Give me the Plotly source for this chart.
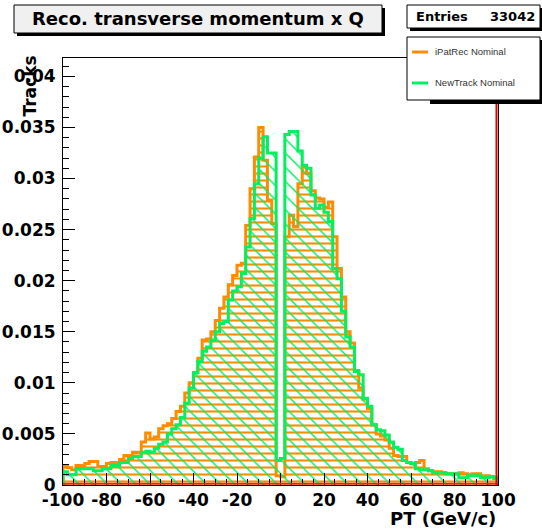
import plotly.graph_objects as go

# ---------------- data ----------------
BIN_LOW = list(range(-100, 100, 2))          # bin lower edges (GeV/c), width 2
BIN_HIGH_EDGE = 100

IPATREC = [
    0.0019, 0.0017, 0.0015, 0.0019, 0.0019, 0.0021, 0.0023, 0.0023, 0.0018, 0.0018,
    0.0021, 0.0022, 0.0022, 0.0025, 0.0029, 0.0029, 0.0032, 0.0032, 0.0042, 0.0051,
    0.0045, 0.0047, 0.0055, 0.0058, 0.0060, 0.0065, 0.0072, 0.0077, 0.0090, 0.0100,
    0.0110, 0.0124, 0.0142, 0.0143, 0.0150, 0.0161, 0.0173, 0.0184, 0.0196, 0.0205,
    0.0215, 0.0217, 0.0254, 0.0290, 0.0321, 0.0350, 0.0318, 0.0279, 0.0256, 0.0009,
    0.0008, 0.0243, 0.0264, 0.0253, 0.0295, 0.0311, 0.0305, 0.0288, 0.0281, 0.0280,
    0.0272, 0.0277, 0.0243, 0.0212, 0.0184, 0.0150, 0.0139, 0.0112, 0.0095, 0.0084,
    0.0075, 0.0059, 0.0050, 0.0048, 0.0044, 0.0036, 0.0029, 0.0028, 0.0028, 0.0022,
    0.0021, 0.0022, 0.0024, 0.0016, 0.0014, 0.0013, 0.0013, 0.0012, 0.0011, 0.0011,
    0.0011, 0.0012, 0.0011, 0.0010, 0.0011, 0.0011, 0.0009, 0.0009, 0.0008, 0.0006,
]

NEWTRACK = [
    0.0013, 0.0010, 0.0010, 0.0016, 0.0016, 0.0016, 0.0016, 0.0014, 0.0014, 0.0016,
    0.0016, 0.0019, 0.0019, 0.0022, 0.0022, 0.0026, 0.0028, 0.0028, 0.0032, 0.0033,
    0.0032, 0.0036, 0.0040, 0.0042, 0.0050, 0.0055, 0.0059, 0.0066, 0.0080, 0.0095,
    0.0110, 0.0121, 0.0131, 0.0135, 0.0142, 0.0150, 0.0158, 0.0160, 0.0181, 0.0190,
    0.0194, 0.0207, 0.0233, 0.0261, 0.0295, 0.0320, 0.0341, 0.0325, 0.0325, 0.0024,
    0.0026, 0.0343, 0.0346, 0.0346, 0.0327, 0.0313, 0.0310, 0.0284, 0.0271, 0.0274,
    0.0267, 0.0258, 0.0212, 0.0202, 0.0170, 0.0145, 0.0135, 0.0111, 0.0108, 0.0085,
    0.0077, 0.0059, 0.0054, 0.0053, 0.0049, 0.0042, 0.0037, 0.0035, 0.0024, 0.0022,
    0.0021, 0.0016, 0.0015, 0.0015, 0.0014, 0.0012, 0.0012, 0.0012, 0.0011, 0.0011,
    0.0011, 0.0007, 0.0007, 0.0009, 0.0009, 0.0009, 0.0007, 0.0007, 0.0008, 0.0007,
]

X_TICKS = [-100, -80, -60, -40, -20, 0, 20, 40, 60, 80, 100]
X_TICK_TEXT = ["-100", "-80", "-60", "-40", "-20", "0", "20", "40", "60", "80", "100"]
Y_TICKS = [0, 0.005, 0.01, 0.015, 0.02, 0.025, 0.03, 0.035, 0.04]
Y_TICK_TEXT = ["0", "0.005", "0.01", "0.015", "0.02", "0.025", "0.03", "0.035", "0.04"]

TITLE = "Reco. transverse momentum x Q"
ENTRIES = "33042"
SERIES_NAMES = ["iPatRec Nominal", "NewTrack Nominal"]

ORANGE = "#ff8c00"
GREEN = "#00f060"

# ---------------- geometry helpers ----------------
W, H = 542, 532
L, R, T, B = 63, 498, 58, 485


def px(x):
    return (x - L) / (R - L)


def py(y):
    return (B - y) / (B - T)


def step_xy(values):
    xs = [BIN_LOW[0]] + BIN_LOW + [BIN_HIGH_EDGE, BIN_HIGH_EDGE]
    ys = [0] + values + [values[-1], 0]
    return xs, ys


BOLD = "DejaVu Sans"

fig = go.Figure()

for vals, color, shape, size, sol, name in [
    (IPATREC, ORANGE, "-", 7, 0.3, SERIES_NAMES[0]),
    (NEWTRACK, GREEN, "\\", 10, 0.15, SERIES_NAMES[1]),
]:
    xs, ys = step_xy(vals)
    fig.add_trace(go.Scatter(
        x=xs, y=ys, mode="lines", line=dict(shape="hv", color=color, width=3),
        fill="tozeroy", fillcolor="rgba(0,0,0,0)",
        fillpattern=dict(shape=shape, fgcolor=color, bgcolor="rgba(255,255,255,0)",
                         size=size, solidity=sol, fillmode="replace"),
        name=name, showlegend=False, hoverinfo="skip",
    ))

shapes = []
# bottom baseline (red) and right edge (red)
shapes.append(dict(type="line", xref="paper", yref="paper", x0=0, x1=1, y0=0.003, y1=0.003,
                   line=dict(color="#ff2000", width=2)))
shapes.append(dict(type="line", xref="paper", yref="paper", x0=px(496.5), x1=px(496.5),
                   y0=0, y1=py(100), line=dict(color="#dd0000", width=2)))

# title box with shadow
shapes.append(dict(type="rect", xref="paper", yref="paper", x0=px(17), x1=px(385), y0=py(36), y1=py(8),
                   fillcolor="black", line=dict(width=0)))
shapes.append(dict(type="rect", xref="paper", yref="paper", x0=px(14), x1=px(382), y0=py(33), y1=py(5),
                   fillcolor="#f0f0f0", line=dict(color="black", width=1)))
# stats box with shadow
shapes.append(dict(type="rect", xref="paper", yref="paper", x0=px(410), x1=px(545), y0=py(31), y1=py(8),
                   fillcolor="black", line=dict(width=0)))
shapes.append(dict(type="rect", xref="paper", yref="paper", x0=px(407), x1=px(540), y0=py(28), y1=py(5),
                   fillcolor="white", line=dict(color="black", width=1)))
# legend box with shadow
shapes.append(dict(type="rect", xref="paper", yref="paper", x0=px(430), x1=px(545), y0=py(104), y1=py(40),
                   fillcolor="black", line=dict(width=0)))
shapes.append(dict(type="rect", xref="paper", yref="paper", x0=px(407), x1=px(540), y0=py(100), y1=py(37),
                   fillcolor="white", line=dict(color="black", width=1)))
# legend line samples
shapes.append(dict(type="line", xref="paper", yref="paper", x0=px(412), x1=px(428), y0=py(52), y1=py(52),
                   line=dict(color=ORANGE, width=3)))
shapes.append(dict(type="line", xref="paper", yref="paper", x0=px(412), x1=px(428), y0=py(83), y1=py(83),
                   line=dict(color=GREEN, width=3)))

annotations = [
    dict(text=TITLE, xref="paper", yref="paper", x=px(198), y=py(19), xanchor="center", yanchor="middle",
         showarrow=False, font=dict(family=BOLD, size=18, color="black", weight="bold")),
    dict(text="Entries", xref="paper", yref="paper", x=px(414), y=py(17), xanchor="left", yanchor="middle",
         showarrow=False, font=dict(family=BOLD, size=13, color="black", weight="bold")),
    dict(text=ENTRIES, xref="paper", yref="paper", x=px(537), y=py(17), xanchor="right", yanchor="middle",
         showarrow=False, font=dict(family=BOLD, size=13, color="black", weight="bold")),
    dict(text=SERIES_NAMES[0], xref="paper", yref="paper", x=px(433), y=py(52), xanchor="left",
         yanchor="middle", showarrow=False, font=dict(family="Liberation Sans", size=9.5, color="#333")),
    dict(text=SERIES_NAMES[1], xref="paper", yref="paper", x=px(433), y=py(83), xanchor="left",
         yanchor="middle", showarrow=False, font=dict(family="Liberation Sans", size=9.5, color="#333")),
    dict(text="Tracks", xref="paper", yref="paper", x=px(29), y=py(54), xanchor="center", yanchor="top",
         textangle=-90, showarrow=False, font=dict(family=BOLD, size=17, color="black", weight="bold")),
    dict(text="PT (GeV/c)", xref="paper", yref="paper", x=px(498), y=py(518), xanchor="right",
         yanchor="middle", showarrow=False, font=dict(family=BOLD, size=18, color="black", weight="bold")),
]

fig.update_layout(
    width=W, height=H,
    margin=dict(l=L, r=W - R, t=T, b=H - B, pad=0, autoexpand=False),
    paper_bgcolor="white", plot_bgcolor="white",
    showlegend=False,
    shapes=shapes,
    annotations=annotations,
    xaxis=dict(range=[-100, 100], showgrid=False, zeroline=False, automargin=False,
               showline=True, linecolor="black", linewidth=1, mirror=True,
               ticks="inside", ticklen=12, tickwidth=1, tickcolor="black",
               tickvals=X_TICKS, ticktext=X_TICK_TEXT,
               tickfont=dict(family=BOLD, size=17, color="black", weight="bold"),
               minor=dict(dtick=5, tick0=0, ticks="inside", ticklen=6, tickcolor="black", showgrid=False)),
    yaxis=dict(range=[0, 0.0418], showgrid=False, zeroline=False, automargin=False,
               showline=True, linecolor="black", linewidth=1, mirror=True,
               ticks="inside", ticklen=12, tickwidth=1, tickcolor="black",
               tickvals=Y_TICKS, ticktext=Y_TICK_TEXT, ticklabelstandoff=3,
               tickfont=dict(family=BOLD, size=17, color="black", weight="bold"),
               minor=dict(dtick=0.001, tick0=0, ticks="inside", ticklen=6, tickcolor="black", showgrid=False)),
)

fig.write_html("out.html", config={"displayModeBar": False},
               post_script="document.body.style.margin='0';")
